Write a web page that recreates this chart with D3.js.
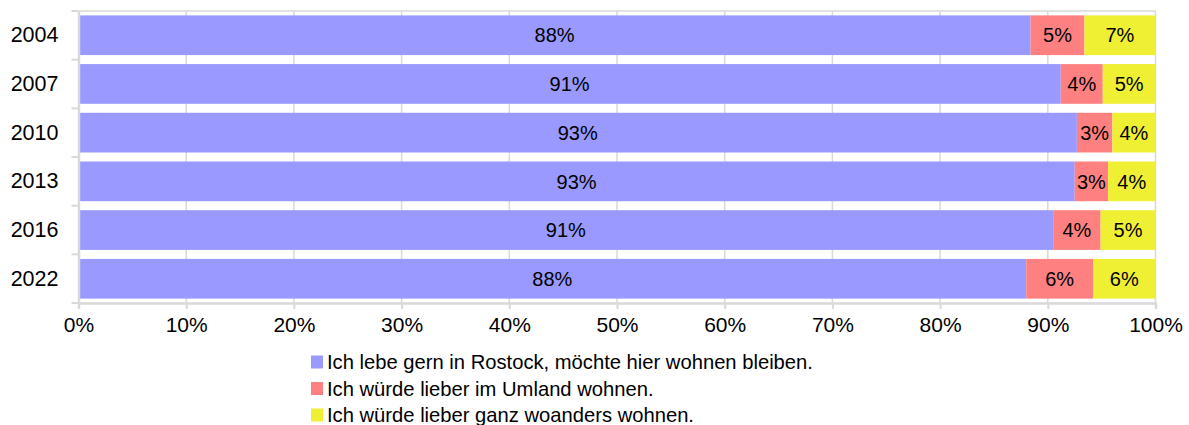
<!DOCTYPE html>
<html><head><meta charset="utf-8">
<script src="https://cdn.jsdelivr.net/npm/d3@7"></script>
<style>body{margin:0;background:#fff;}svg{display:block;font-family:"Liberation Sans",Arial,sans-serif;}</style>
</head><body><svg id="c" width="1189" height="425"></svg>
<script>
const years = ["2004","2007","2010","2013","2016","2022"];
const stay = [88.4, 91.2, 92.7, 92.5, 90.5, 88.0];
const umland = [5.0, 3.9, 3.3, 3.1, 4.4, 6.2];
const elsewhere = [6.6, 4.9, 4.0, 4.4, 5.1, 5.8];
const seriesNames = ["Ich lebe gern in Rostock, möchte hier wohnen bleiben.","Ich würde lieber im Umland wohnen.","Ich würde lieber ganz woanders wohnen."];
const seriesKeys = ["stay","umland","elsewhere"];
const colors = ["#9999ff","#ff8080","#efef33"];
const xTicks = [0,10,20,30,40,50,60,70,80,90,100];

const svg = d3.select("#c");
const L = 78.5, R = 1155.5, T = 11, B = 303;
const x = d3.scaleLinear().domain([0,100]).range([L,R]);
const y = d3.scaleBand().domain(years).range([T,B]).paddingInner(0.185).paddingOuter(0.09);
const grid = "#d9d9d9";

// grid
svg.append("g").selectAll("line").data(xTicks.slice(1)).join("line")
  .attr("x1",d=>x(d)).attr("x2",d=>x(d)).attr("y1",T).attr("y2",B)
  .attr("stroke",grid).attr("stroke-width",1.5);
svg.append("line").attr("x1",L).attr("x2",R).attr("y1",T).attr("y2",T).attr("stroke",grid).attr("stroke-width",1.5);

const table = years.map((yr,i)=>({year:yr, stay:stay[i], umland:umland[i], elsewhere:elsewhere[i]}));
const stack = d3.stack().keys(seriesKeys)(table);

const g = svg.append("g");
stack.forEach((s,si)=>{
  g.append("g").selectAll("rect").data(s).join("rect")
    .attr("x",d=>x(d[0])).attr("width",d=>x(d[1])-x(d[0]))
    .attr("y",d=>y(d.data.year)).attr("height",y.bandwidth())
    .attr("fill",colors[si]);
  g.append("g").selectAll("text").data(s).join("text")
    .attr("x",d=>(x(d[0])+x(d[1]))/2).attr("y",d=>y(d.data.year)+y.bandwidth()/2)
    .attr("dy","0.36em").attr("text-anchor","middle")
    .attr("font-size",20).attr("fill","#000")
    .text(d=>Math.round(d[1]-d[0])+"%");
});

// axes
const xa = svg.append("g").attr("transform",`translate(0,${B})`)
  .call(d3.axisBottom(x).tickValues(xTicks).tickFormat(d=>d+"%").tickSize(6).tickPadding(8));
xa.select(".domain").attr("stroke",grid).attr("stroke-width",2.5);
xa.selectAll(".tick line").attr("stroke",grid).attr("stroke-width",2);
xa.selectAll("text").attr("font-size",21).attr("fill","#000").attr("font-family","Liberation Sans, Arial, sans-serif");

const ya = svg.append("g").attr("transform",`translate(${L},0)`)
  .call(d3.axisLeft(y).tickSize(0).tickPadding(20));
ya.select(".domain").attr("stroke",grid).attr("stroke-width",2.5);
ya.selectAll("text").attr("font-size",21.5).attr("fill","#000").attr("font-family","Liberation Sans, Arial, sans-serif");
// category boundary ticks
const bounds = d3.range(years.length+1).map(i=>T+(B-T)*i/years.length);
svg.append("g").selectAll("line").data(bounds).join("line")
  .attr("x1",L-7).attr("x2",L).attr("y1",d=>d).attr("y2",d=>d)
  .attr("stroke",grid).attr("stroke-width",2);

// legend
const lg = svg.append("g");
seriesNames.forEach((n,i)=>{
  const cy = 362 + i*26.5;
  lg.append("rect").attr("x",311).attr("y",cy-6.5).attr("width",12).attr("height",13).attr("fill",colors[i]);
  lg.append("text").attr("x",327).attr("y",cy).attr("dy","0.36em").attr("font-size",20.2).attr("fill","#000").text(n);
});
</script></body></html>
